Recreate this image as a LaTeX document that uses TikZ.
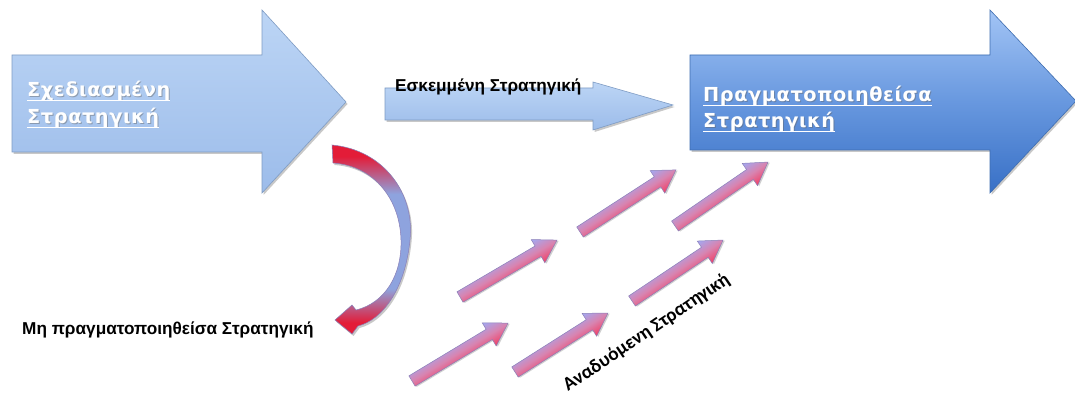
\documentclass[tikz,border=0pt]{standalone}
\usepackage{fontspec}
\setmainfont{Liberation Sans}
\newfontfamily\linkfont{DejaVu Sans}[LetterSpace=3]
\newfontfamily\risefont{Carlito}
\usetikzlibrary{shadows}

\definecolor{paleTop}{HTML}{BCD5F5}
\definecolor{paleBot}{HTML}{9CBCEA}
\definecolor{paleEdge}{HTML}{7F9CC4}
\definecolor{deepTop}{HTML}{A2C4F5}
\definecolor{deepMid}{HTML}{6898DF}
\definecolor{deepBot}{HTML}{3870C6}
\definecolor{deepEdge}{HTML}{3E6DB0}
\definecolor{lilac}{HTML}{A2A8F2}
\definecolor{blush}{HTML}{D884B0}
\definecolor{rose}{HTML}{F23C62}
\definecolor{roseEdge}{HTML}{8A7FB8}
\definecolor{crimson}{HTML}{E31C38}
\definecolor{steel}{HTML}{8EA3DE}

% red tail, blue bend, red head (0bp = bottom of the path box at 25bp)
\pgfdeclareverticalshading{bendfade}{100bp}{
  color(0bp)=(crimson); color(28bp)=(crimson); color(37bp)=(steel);
  color(62bp)=(steel); color(72bp)=(crimson); color(100bp)=(crimson)}

\tikzset{
  softshadow/.style={drop shadow={shadow xshift=1.5pt, shadow yshift=-2pt, opacity=0.3, fill=black!70}},
  palearrow/.style={softshadow, top color=paleTop, bottom color=paleBot, draw=paleEdge, line width=0.6pt},
  deeparrow/.style={softshadow, top color=deepTop, bottom color=deepBot, middle color=deepMid, draw=deepEdge, line width=0.6pt},
  risearrow/.style={drop shadow={shadow xshift=1pt, shadow yshift=-1.5pt, opacity=0.3, fill=black!60},
                    top color=lilac, bottom color=rose, middle color=blush, draw=roseEdge, line width=0.5pt},
  linklabel/.style={inner sep=0pt, anchor=base west, text=white, font=\linkfont\bfseries\fontsize{19.3}{22}\selectfont},
  linkshade/.style={inner sep=0pt, anchor=base west, text=black!60, opacity=0.45, font=\linkfont\bfseries\fontsize{19.3}{22}\selectfont},
  blacklabel/.style={inner sep=0pt, anchor=base west, text=black, font=\bfseries\fontsize{17.2}{20}\selectfont},
}

\begin{document}
\begin{tikzpicture}[x=1pt, y=-1pt]
  \useasboundingbox[fill=white] (0,0) rectangle (1075,403);

  % planned strategy: large pale arrow
  \path[palearrow] (12,55) -- (262,55) -- (262,10) -- (346,102) -- (262,193)
        -- (262,152) -- (12,152) -- cycle;
  % deliberate strategy: thin arrow
  \path[palearrow] (385,88) -- (593,88) -- (593,82) -- (673,105) -- (593,130)
        -- (593,120) -- (385,120) -- cycle;
  % realized strategy: large deep-blue arrow
  \path[deeparrow] (690,55) -- (990,55) -- (990,10) -- (1076,101) -- (990,193)
        -- (990,150) -- (690,150) -- cycle;

  % unrealized strategy: curved arrow bending back to the left
  \path[softshadow, shading=bendfade, draw=roseEdge, line width=0.5pt]
    (332,145) .. controls (385,150) and (415,195) .. (410,240)
              .. controls (405,290) and (382,320) .. (358,326)
    -- (352,334) -- (335,320) -- (352,305) -- (356,310)
              .. controls (385,303) and (402,275) .. (401,240)
              .. controls (400,200) and (375,166) .. (333,163) -- cycle;

  % emergent strategy: six small rising arrows, shaded across their width
  \foreach \tx/\ty/\ang/\len in {460/297/30.4/112.5, 580/232/32.9/114.3, 675/226/34.5/112.9,
                                 412/381/31.1/112.2, 515/372/32.4/110.1, 632/301/33.8/109.6}{
    \begin{scope}[transform canvas={shift={(\tx,\ty)}, rotate=\ang}]
      \path[risearrow]
        (0,-6) -- (\len-22,-6) -- (\len-22,-13.5) -- (\len,0) -- (\len-22,13.5)
        -- (\len-22,6) -- (0,6) -- cycle;
    \end{scope}
  }

  % labels inside the large arrows
  \node[linkshade] at (28,98)  {Σχεδιασμένη};
  \node[linkshade] at (28,125) {Στρατηγική};
  \node[linklabel] (plan1) at (27,97)  {Σχεδιασμένη};
  \node[linklabel] (plan2) at (27,124) {Στρατηγική};
  \node[linkshade] at (704,103) {Πραγματοποιηθείσα};
  \node[linkshade] at (704,129) {Στρατηγική};
  \node[linklabel] (real1) at (703,102) {Πραγματοποιηθείσα};
  \node[linklabel] (real2) at (703,128) {Στρατηγική};
  \foreach \n in {plan1,plan2,real1,real2}{
    \draw[white, line width=1.4pt] ([yshift=-3.5pt]\n.base west) -- ([yshift=-3.5pt]\n.base east);
  }

  % black labels
  \node[blacklabel] (delib) at (395,92)  {Εσκεμμένη Στρατηγική};
  \node[blacklabel] (unreal) at (22,334) {Μη πραγματοποιηθείσα Στρατηγική};
  \node[inner sep=0pt, anchor=base west, rotate=34, font=\risefont\bfseries\fontsize{19.2}{23}\selectfont]
    (emerg) at (568,392) {Αναδυόμενη Στρατηγική};
\end{tikzpicture}
\end{document}
